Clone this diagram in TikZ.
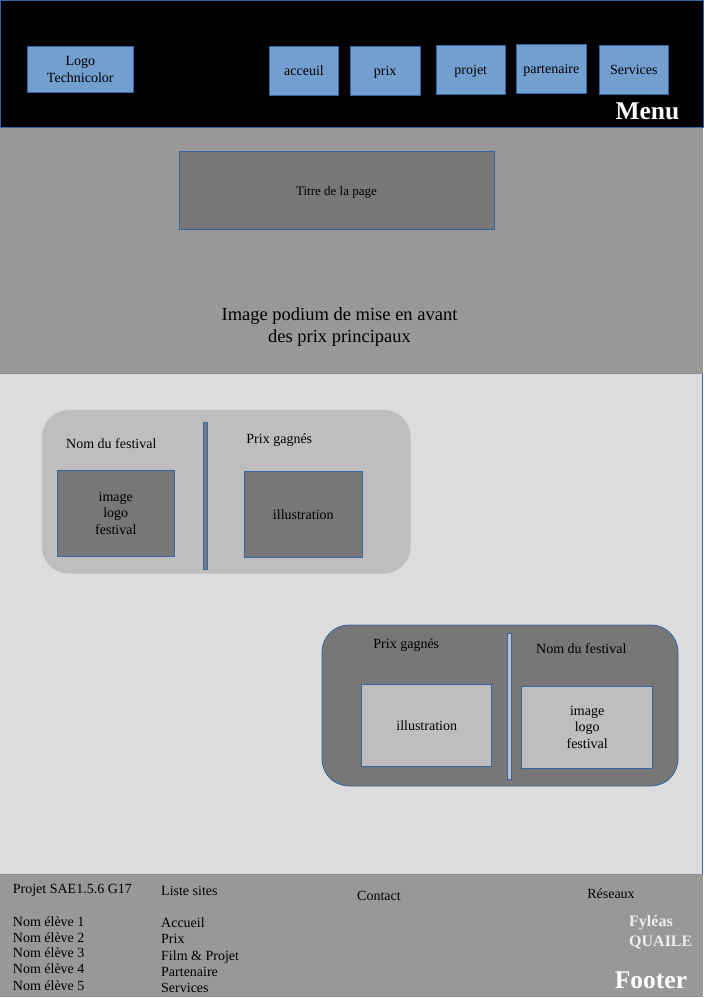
\documentclass[tikz,border=0pt]{standalone}
\usepackage{fontspec}
\setmainfont{Liberation Serif}
\definecolor{navblue}{HTML}{729FCF}
\definecolor{edgeblue}{HTML}{3465A4}
\definecolor{heroGrey}{HTML}{989898}
\definecolor{bodyGrey}{HTML}{DCDCDC}
\definecolor{darkGrey}{HTML}{777777}
\definecolor{lightGrey}{HTML}{BEBEBE}
\definecolor{offWhite}{HTML}{EEEEEE}
\tikzset{
  navbox/.style={draw=edgeblue, line width=0.8pt, fill=navblue, inner sep=0pt, align=center, font=\fontsize{14}{17}\selectfont},
  navone/.style={navbox, text height=10pt, text depth=0pt},
  darkbox/.style={draw=edgeblue, line width=0.8pt, fill=darkGrey, inner sep=0pt, align=center, font=\fontsize{14}{16.5}\selectfont},
  lightbox/.style={draw=edgeblue, line width=0.8pt, fill=lightGrey, inner sep=0pt, align=center, font=\fontsize{14}{16.5}\selectfont},
  txt/.style={inner sep=0pt, font=\fontsize{14}{16}\selectfont},
  bigwhite/.style={inner sep=0pt, text=white, font=\fontsize{25.5}{28}\selectfont\bfseries},
  smallwhite/.style={inner sep=0pt, text=offWhite, font=\fontsize{16}{19}\selectfont\bfseries},
}
\begin{document}
\begin{tikzpicture}[x=1pt,y=-1pt]
\useasboundingbox (0,0) rectangle (704,998);
% regions
\fill[heroGrey] (0,127) rectangle (703,374);
\fill[bodyGrey] (0,374) rectangle (703,874);
\fill[heroGrey] (0,874) rectangle (703,996.5);
\draw[edgeblue, line width=0.8pt] (702.5,374) -- (702.5,874);
\draw[black!45, line width=0.8pt] (0,373.5) -- (703,373.5);
\draw[black!45, line width=0.8pt] (0,874) -- (703,874);
\draw[black!45, line width=0.8pt] (0,996.5) -- (703,996.5);
\draw[edgeblue, line width=0.8pt, fill=black] (0.5,0.5) rectangle (703,127);
% header
\node[navbox, minimum width=106pt, minimum height=46pt] (logo) at (80.3,69.2) {Logo\\Technicolor};
\node[navone, minimum width=69.4pt, minimum height=49pt] (acc) at (304,70.8) {acceuil};
\node[navone, minimum width=70.3pt, minimum height=49.3pt] (prix) at (385.2,70.7) {prix};
\node[navone, minimum width=69pt, minimum height=49pt] (proj) at (470.8,69.5) {projet};
\node[navone, minimum width=70pt, minimum height=48.7pt] (part) at (551.3,68.7) {partenaire};
\node[navone, minimum width=69pt, minimum height=49pt] (serv) at (633.8,69.5) {Services};
\node[bigwhite, anchor=base east] (menu) at (679.5,119) {Menu};
% hero
\node[darkbox, minimum width=315pt, minimum height=78pt, font=\fontsize{13}{15}\selectfont, text height=11pt, text depth=0pt] (titre) at (336.5,190) {Titre de la page};
\node[inner sep=0pt, align=center, font=\fontsize{18.5}{21.6}\selectfont] (podium) at (339.5,327.2) {Image podium de mise en avant\\des prix principaux};
% card 1
\node[fill=lightGrey, rounded corners=27pt, minimum width=368.7pt, minimum height=163.7pt, inner sep=0pt] (card1) at (226.3,491.8) {};
\node[darkbox, minimum width=4pt, minimum height=147pt] (bar1) at (205.3,495.8) {};
\node[txt, anchor=base] (nom1) at (111.3,448.3) {Nom du festival};
\node[darkbox, minimum width=117pt, minimum height=85.7pt] (img1) at (115.8,513.2) {image\\logo\\festival};
\node[txt, anchor=base] (prix1) at (279.3,443.7) {Prix gagnés};
\node[darkbox, minimum width=118pt, minimum height=86pt] (ill1) at (303.3,514.3) {illustration};
% card 2
\node[draw=edgeblue, line width=0.8pt, fill=darkGrey, rounded corners=27pt, minimum width=356pt, minimum height=161pt, inner sep=0pt] (card2) at (500,705.5) {};
\node[lightbox, minimum width=3.6pt, minimum height=146pt] (bar2) at (509.5,706.3) {};
\node[txt, anchor=base] (prix2) at (406.3,648.3) {Prix gagnés};
\node[lightbox, minimum width=130pt, minimum height=81.3pt] (ill2) at (426.7,725.3) {illustration};
\node[txt, anchor=base] (nom2) at (581.3,653.3) {Nom du festival};
\node[lightbox, minimum width=131pt, minimum height=82.3pt] (img2) at (587.2,727.2) {image\\logo\\festival};
% footer
\node[txt, anchor=base west] (sae) at (12.7,893.3) {Projet SAE1.5.6 G17};
\node[txt, anchor=base west] (e1) at (12.7,926) {Nom élève 1};
\node[txt, anchor=base west] (e2) at (12.7,942) {Nom élève 2};
\node[txt, anchor=base west] (e3) at (12.7,957.5) {Nom élève 3};
\node[txt, anchor=base west] (e4) at (12.7,973.5) {Nom élève 4};
\node[txt, anchor=base west] (e5) at (12.7,990) {Nom élève 5};
\node[txt, anchor=base west] (liste) at (161,895) {Liste sites};
\node[txt, anchor=base west] (l1) at (161,927.7) {Accueil};
\node[txt, anchor=base west] (l2) at (161,943.3) {Prix};
\node[txt, anchor=base west] (l3) at (161,960) {Film \& Projet};
\node[txt, anchor=base west] (l4) at (161,976.7) {Partenaire};
\node[txt, anchor=base west] (l5) at (161,992.3) {Services};
\node[txt, anchor=base] (contact) at (379,900.7) {Contact};
\node[txt, anchor=base] (reseaux) at (611,898.3) {Réseaux};
\node[smallwhite, anchor=base west] (fyleas) at (629,926.7) {Fyléas};
\node[smallwhite, anchor=base west] (quaile) at (629,946) {QUAILE};
\node[bigwhite, anchor=base east] (footer) at (687.3,988.3) {Footer};
\end{tikzpicture}
\end{document}
